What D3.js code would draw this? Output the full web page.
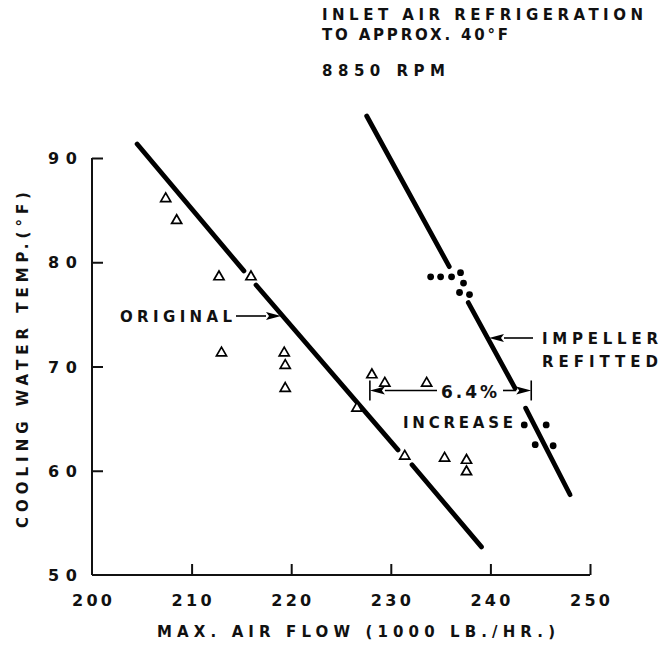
<!DOCTYPE html>
<html><head><meta charset="utf-8">
<script src="https://cdn.jsdelivr.net/npm/d3@7"></script>
<style>body{margin:0;background:#fff}svg{display:block}</style>
</head><body>
<svg id="c" width="670" height="646"></svg>
<script>
const xTicks = [200, 210, 220, 230, 240, 250];
const yTicks = [50, 60, 70, 80, 90];
const titleLines = ["INLET AIR REFRIGERATION", "TO APPROX. 40°F"];
const speedLabel = "8850 RPM";
const xLabel = "MAX. AIR FLOW (1000 LB./HR.)";
const yLabel = "COOLING WATER TEMP.(°F)";

// Original impeller test points (open triangles)
const originalFlow = [207.4, 208.5, 212.75, 215.96, 213.0, 219.3, 219.4, 219.4, 226.6, 228.1, 229.4, 233.6, 231.4, 235.4, 237.6, 237.6];
const originalTemp = [86.1, 84.0, 78.6, 78.6, 71.3, 71.3, 70.1, 67.9, 66.0, 69.2, 68.4, 68.4, 61.4, 61.2, 61.0, 59.9];
// Refitted impeller test points (filled dots)
const refittedFlow = [234.0, 235.0, 236.1, 237.0, 237.3, 236.9, 237.9, 243.4, 245.6, 244.5, 246.3];
const refittedTemp = [78.6, 78.6, 78.6, 79.0, 78.0, 77.1, 76.9, 64.4, 64.4, 62.5, 62.4];

// Fitted lines, drawn as broken segments: [flowStart, tempStart, flowEnd, tempEnd]
const originalFit = [[204.53, 91.34, 215.25, 79.17], [216.47, 77.82, 230.72, 62.0], [232.13, 60.57, 239.1, 52.7]];
const refittedFit = [[227.58, 94.03, 235.87, 79.58], [237.78, 76.13, 242.47, 67.92], [243.54, 66.0, 248.0, 57.7]];

// Increase bracket endpoints (flow)
const increaseFrom = 227.9, increaseTo = 244.1, increaseTemp = 67.7;

const svg = d3.select("#c");
const FONT = "'DejaVu Sans', 'Liberation Sans', Arial, sans-serif";
const x = d3.scaleLinear().domain([200, 250]).range([92, 590]);
const y = d3.scaleLinear().domain([50, 90]).range([575, 158]);

// Axes
const gx = svg.append("g").attr("transform", `translate(0,${y(50)})`)
  .call(d3.axisBottom(x).tickValues(xTicks.slice(1)).tickSize(-11).tickFormat(""));
const gy = svg.append("g").attr("transform", `translate(${x(200)},0)`)
  .call(d3.axisLeft(y).tickValues(yTicks.slice(1)).tickSize(-11).tickFormat(""));
[gx, gy].forEach(g => {
  g.select(".domain").attr("stroke", "#111").attr("stroke-width", 2);
  g.selectAll(".tick line").attr("stroke", "#111").attr("stroke-width", 2);
});
gx.select(".domain").attr("d", `M${x(200)},0H${x(250)}`);
gy.select(".domain").attr("d", `M0,${y(50)}V${y(90)}`);

function label(sel, txt, size, len) {
  return sel.style("font", `bold ${size}px ${FONT}`).attr("fill", "#111")
    .attr("textLength", len).attr("lengthAdjust", "spacing").text(txt);
}

// Tick labels
svg.append("g").selectAll("text").data(xTicks).join("text")
  .attr("x", d => x(d)).attr("y", 606).attr("text-anchor", "middle")
  .each(function(d) { label(d3.select(this), d, 16, 40); });
svg.append("g").selectAll("text").data(yTicks).join("text")
  .attr("x", 77).attr("y", d => y(d) + 6).attr("text-anchor", "end")
  .each(function(d) { label(d3.select(this), d, 16, 29); });

// Axis titles
label(svg.append("text").attr("x", 356).attr("y", 637).attr("text-anchor", "middle"), xLabel, 15, 398);
label(svg.append("text").attr("transform", `translate(28,360) rotate(-90)`).attr("text-anchor", "middle"), yLabel, 15, 336);

// Title block
const titleLen = [321, 186];
svg.append("g").selectAll("text").data(titleLines).join("text")
  .attr("x", 322).attr("y", (d, i) => 20 + i * 20)
  .each(function(d, i) { label(d3.select(this), d, 15, titleLen[i]); });
label(svg.append("text").attr("x", 322).attr("y", 76), speedLabel, 15, 123);

// Fit lines
const segs = originalFit.concat(refittedFit);
svg.append("g").selectAll("line").data(segs).join("line")
  .attr("x1", d => x(d[0])).attr("y1", d => y(d[1]))
  .attr("x2", d => x(d[2])).attr("y2", d => y(d[3]))
  .attr("stroke", "#000").attr("stroke-width", 4.8).attr("stroke-linecap", "round");

// Points
const tri = d3.symbol().type(d3.symbolTriangle).size(44);
svg.append("g").selectAll("path").data(originalFlow.map((f, i) => [f, originalTemp[i]])).join("path")
  .attr("d", tri).attr("transform", d => `translate(${x(d[0])},${y(d[1])})`)
  .attr("fill", "#fff").attr("stroke", "#000").attr("stroke-width", 1.7);
svg.append("g").selectAll("circle").data(refittedFlow.map((f, i) => [f, refittedTemp[i]])).join("circle")
  .attr("cx", d => x(d[0])).attr("cy", d => y(d[1])).attr("r", 3.4).attr("fill", "#000");

// Arrow helper
function arrow(x1, y1, x2, y2) {
  const a = Math.atan2(y2 - y1, x2 - x1), L = 15, W = 4;
  const bx = x2 - L * Math.cos(a), by = y2 - L * Math.sin(a);
  svg.append("line").attr("x1", x1).attr("y1", y1).attr("x2", bx).attr("y2", by)
    .attr("stroke", "#000").attr("stroke-width", 1.6);
  const px = -Math.sin(a) * W, py = Math.cos(a) * W;
  svg.append("path")
    .attr("d", `M${x2},${y2}L${bx + px},${by + py}L${bx + 3 * Math.cos(a)},${by + 3 * Math.sin(a)}L${bx - px},${by - py}Z`)
    .attr("fill", "#000");
}

// ORIGINAL label
label(svg.append("text").attr("x", 120).attr("y", 322), "ORIGINAL", 15, 112);
arrow(236, 316, 281, 316);

// IMPELLER REFITTED label
svg.append("g").selectAll("text").data(["IMPELLER", "REFITTED"]).join("text")
  .attr("x", 542).attr("y", (d, i) => 344 + i * 23)
  .each(function(d) { label(d3.select(this), d, 15, 116); });
arrow(533, 338, 489, 338);

// 6.4% INCREASE bracket
const ay = y(increaseTemp);
[increaseFrom, increaseTo].forEach(v => {
  svg.append("line").attr("x1", x(v)).attr("x2", x(v)).attr("y1", ay - 10).attr("y2", ay + 10)
    .attr("stroke", "#000").attr("stroke-width", 1.6);
});
arrow(437, ay, x(increaseFrom), ay);
arrow(503, ay, x(increaseTo), ay);
label(svg.append("text").attr("x", 441).attr("y", ay + 8), "6.4%", 17, 56);
label(svg.append("text").attr("x", 403).attr("y", 428), "INCREASE", 15, 110);
</script>
</body></html>
